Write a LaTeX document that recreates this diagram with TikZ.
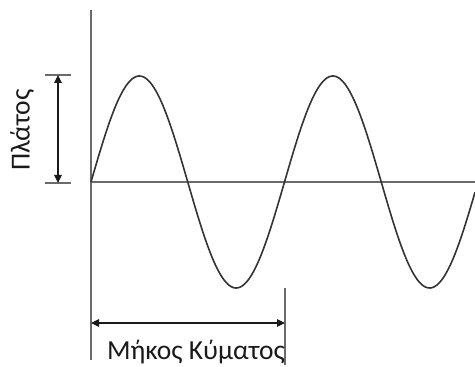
\documentclass[tikz,border=0pt]{standalone}
\usepackage{fontspec}
\setmainfont{Carlito}
\usetikzlibrary{arrows.meta}
\definecolor{axisgray}{HTML}{6A6A6A}
\definecolor{wave}{HTML}{333333}
\definecolor{ink}{HTML}{1A1A1A}

\begin{document}
\begin{tikzpicture}[x=1pt,y=1pt,>={Triangle[length=8pt,width=7.5pt]},
  axisline/.style={axisgray,line width=2.6pt},
  tickline/.style={axisgray,line width=2.2pt},
  dim/.style={<->,ink,line width=1.2pt},
  lbl/.style={text=ink,font=\fontsize{27.5}{32}\selectfont,inner sep=0pt}]
  \useasboundingbox (0,0) rectangle (475,367);
  % axes
  \coordinate (o) at (91,185);
  \coordinate (ytop) at (91,357);
  \coordinate (ybot) at (91,7);
  \coordinate (xend) at (475,185);
  \draw[axisline] (ybot) -- (ytop);
  \draw[axisline] (o) -- (xend);
  % wave
  \draw[wave,line width=1.6pt] plot[domain=0:384,samples=240] ({91+\x},{185+106*sin(\x/193.5*360)});
  % amplitude
  \coordinate (atl) at (45,292);
  \coordinate (atr) at (71,292);
  \coordinate (abl) at (45,184);
  \coordinate (abr) at (71,184);
  \coordinate (atop) at (58,292);
  \coordinate (abot) at (58,184);
  \draw[tickline] (atl) -- (atr);
  \draw[tickline] (abl) -- (abr);
  \draw[dim] (abot) -- (atop);
  \node[lbl,rotate=90] (amp) at (22,237) {Πλάτος};
  % wavelength
  \coordinate (wtop) at (285,79);
  \coordinate (wbot) at (285,2);
  \coordinate (wl) at (91,44);
  \coordinate (wr) at (285,44);
  \draw[tickline] (wbot) -- (wtop);
  \draw[dim] (wl) -- (wr);
  \node[lbl,anchor=base] (len) at (196,7) {Μήκος Κύματος};
\end{tikzpicture}
\end{document}
